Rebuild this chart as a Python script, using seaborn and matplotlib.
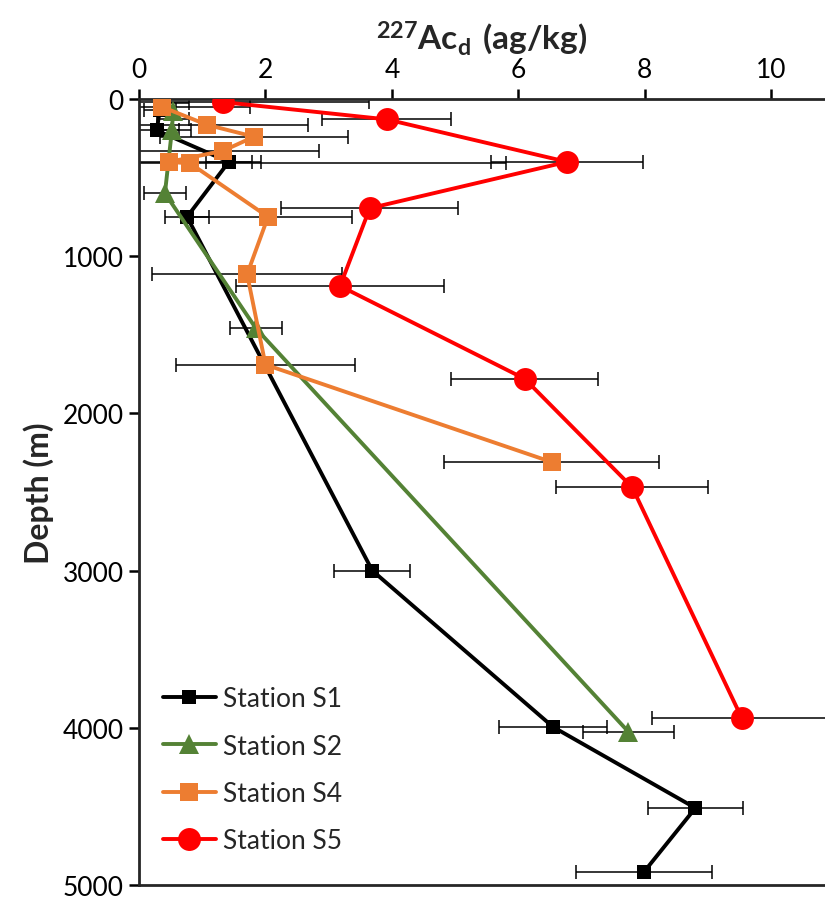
import pandas as pd
import matplotlib.pyplot as plt
import seaborn as sns

# --- data (227Ac_d in ag/kg vs depth in m) ---
s1_ac = [0.33, 0.28, 1.42, 0.76, 3.69, 6.55, 8.80, 7.99]
s1_depth = [70, 200, 400, 750, 3000, 3995, 4510, 4915]
s1_err = [0.25, 0.35, 0.36, 0.35, 0.60, 0.85, 0.75, 1.08]

s2_ac = [0.54, 0.54, 0.52, 0.41, 1.85, 7.74]
s2_depth = [25, 130, 200, 600, 1460, 4025]
s2_err = [0.25, 0.25, 0.30, 0.33, 0.41, 0.72]

s4_ac = [0.36, 1.08, 1.82, 1.33, 0.48, 0.81, 2.04, 1.71, 2.00, 6.53]
s4_depth = [50, 165, 240, 330, 400, 410, 750, 1115, 1690, 2310]
s4_err = [1.40, 1.59, 1.49, 1.52, 1.45, 5.00, 1.33, 1.50, 1.42, 1.70]

s5_ac = [1.33, 3.92, 6.77, 3.65, 3.18, 6.10, 7.80, 9.53]
s5_depth = [20, 130, 400, 695, 1190, 1780, 2470, 3935]
s5_err = [2.30, 1.02, 1.20, 1.40, 1.65, 1.16, 1.20, 1.41]

stations = ["Station S1", "Station S2", "Station S4", "Station S5"]
colors = ["black", "#548235", "#ED7D31", "#FF0000"]
markers = ["s", "^", "s", "o"]
msizes = [10, 15, 12.5, 16.5]

series = [(s1_ac, s1_depth, s1_err), (s2_ac, s2_depth, s2_err),
          (s4_ac, s4_depth, s4_err), (s5_ac, s5_depth, s5_err)]

sns.set_style("ticks")
plt.rcParams["font.family"] = ["Lato", "DejaVu Sans"]
plt.rcParams["mathtext.fontset"] = "custom"
plt.rcParams["mathtext.rm"] = "Lato"
plt.rcParams["mathtext.bf"] = "Lato:bold"

fig = plt.figure(figsize=(8.25, 9.03), dpi=100)
ax = fig.add_axes([0.1685, 0.0188, 0.8315, 0.8705])

# error bars first so that markers sit on top
for (x, y, e) in series:
    ax.errorbar(x, y, xerr=e, fmt="none", ecolor="black", elinewidth=1.1,
                capsize=5, capthick=1.1, zorder=1)

for i, (x, y, e) in enumerate(series):
    df = pd.DataFrame({"ac": x, "depth": y})
    sns.lineplot(data=df, x="ac", y="depth", sort=False, ax=ax, color=colors[i],
                 marker=markers[i], markersize=msizes[i], markeredgewidth=0,
                 linewidth=2.8, label=stations[i], zorder=3 + i)

ax.set_xlim(0, 10.85)
ax.set_ylim(5000, 0)
ax.set_xticks([0, 2, 4, 6, 8, 10])
ax.set_yticks([0, 1000, 2000, 3000, 4000, 5000])
ax.xaxis.tick_top()
ax.xaxis.set_label_position("top")
ax.tick_params(axis="both", labelsize=19, width=1.8, length=7, direction="out",
               colors="black")
ax.tick_params(axis="x", pad=5)
ax.tick_params(axis="y", pad=4)

for side in ["top", "left", "bottom"]:
    ax.spines[side].set_linewidth(2)
    ax.spines[side].set_visible(True)
ax.spines["right"].set_visible(False)

ax.set_xlabel(r"$\mathbf{^{227}Ac_d\ (ag/kg)}$", fontsize=24, labelpad=6)
ax.set_ylabel("Depth (m)", fontsize=23, fontweight="bold", labelpad=6)

ax.legend(loc="lower left", bbox_to_anchor=(0.0, 0.01), frameon=False,
          fontsize=19, handlelength=2.0, labelspacing=0.85, handletextpad=0.3,
          borderaxespad=0.5)

plt.savefig("out.png", dpi=100)
